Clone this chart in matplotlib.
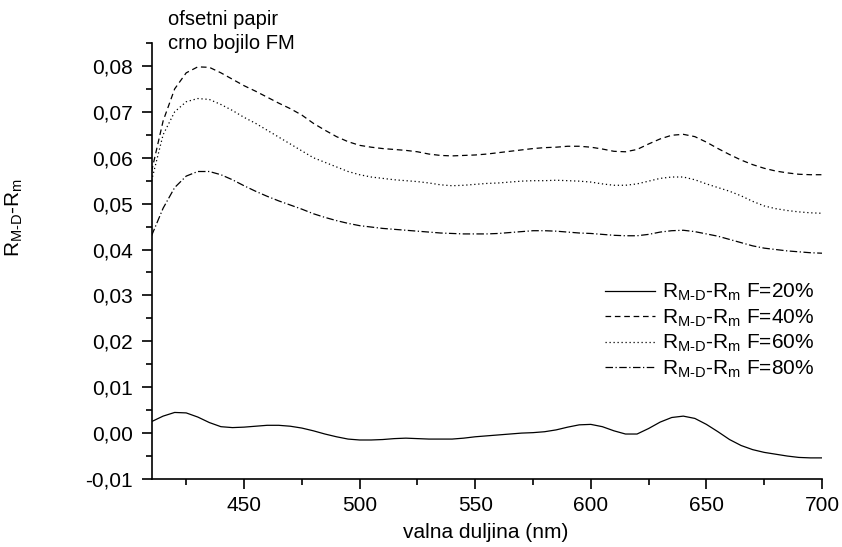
import numpy as np
import matplotlib
matplotlib.use("Agg")
import matplotlib.pyplot as plt
from matplotlib.ticker import MultipleLocator, FuncFormatter

plt.rcParams['font.family'] = ['Liberation Sans', 'DejaVu Sans']
plt.rcParams['mathtext.fontset'] = 'custom'
plt.rcParams['mathtext.rm'] = 'Liberation Sans'
plt.rcParams['mathtext.it'] = 'Liberation Sans'

# valna duljina (nm), svakih 5 nm
wl = np.arange(410, 701, 5)

f20 = [0.0025, 0.0037, 0.0045, 0.0044, 0.0035, 0.0023, 0.0014, 0.0012, 0.0013, 0.0015,
       0.0017, 0.0017, 0.0015, 0.0011, 0.0005, -0.0002, -0.0008, -0.0013, -0.0015, -0.0015,
       -0.0014, -0.0012, -0.0011, -0.0012, -0.0013, -0.0013, -0.0013, -0.0011, -0.0008, -0.0006,
       -0.0004, -0.0002, 0.0000, 0.0001, 0.0003, 0.0007, 0.0013, 0.0018, 0.0019, 0.0014,
       0.0005, -0.0002, -0.0002, 0.0010, 0.0024, 0.0034, 0.0037, 0.0032, 0.0019, 0.0003,
       -0.0014, -0.0027, -0.0036, -0.0042, -0.0046, -0.0050, -0.0053, -0.0054, -0.0054]

f40 = [0.0570, 0.0680, 0.0750, 0.0785, 0.0798, 0.0797, 0.0785, 0.0771, 0.0757, 0.0745,
       0.0732, 0.0719, 0.0707, 0.0693, 0.0675, 0.0660, 0.0646, 0.0635, 0.0627, 0.0623,
       0.0620, 0.0618, 0.0616, 0.0613, 0.0608, 0.0605, 0.0604, 0.0605, 0.0606, 0.0608,
       0.0611, 0.0614, 0.0617, 0.0620, 0.0622, 0.0623, 0.0625, 0.0625, 0.0623, 0.0619,
       0.0614, 0.0613, 0.0618, 0.0630, 0.0641, 0.0649, 0.0651, 0.0646, 0.0634, 0.0620,
       0.0607, 0.0595, 0.0585, 0.0577, 0.0571, 0.0567, 0.0564, 0.0563, 0.0563]

f60 = [0.0550, 0.0650, 0.0700, 0.0722, 0.0729, 0.0727, 0.0716, 0.0703, 0.0688, 0.0675,
       0.0660, 0.0645, 0.0630, 0.0615, 0.0600, 0.0590, 0.0580, 0.0570, 0.0563, 0.0558,
       0.0555, 0.0552, 0.0550, 0.0548, 0.0545, 0.0541, 0.0539, 0.0540, 0.0542, 0.0544,
       0.0545, 0.0547, 0.0549, 0.0550, 0.0550, 0.0551, 0.0550, 0.0549, 0.0547, 0.0543,
       0.0540, 0.0540, 0.0543, 0.0549, 0.0555, 0.0558, 0.0558, 0.0552, 0.0543, 0.0535,
       0.0527, 0.0517, 0.0505, 0.0495, 0.0489, 0.0485, 0.0482, 0.0480, 0.0479]

f80 = [0.0430, 0.0490, 0.0535, 0.0560, 0.0570, 0.0570, 0.0563, 0.0552, 0.0539, 0.0527,
       0.0516, 0.0506, 0.0497, 0.0488, 0.0478, 0.0470, 0.0463, 0.0457, 0.0452, 0.0449,
       0.0446, 0.0444, 0.0442, 0.0440, 0.0438, 0.0436, 0.0435, 0.0434, 0.0434, 0.0434,
       0.0435, 0.0437, 0.0439, 0.0441, 0.0441, 0.0440, 0.0438, 0.0436, 0.0435, 0.0433,
       0.0431, 0.0430, 0.0430, 0.0433, 0.0438, 0.0441, 0.0442, 0.0439, 0.0434, 0.0429,
       0.0422, 0.0415, 0.0408, 0.0403, 0.0400, 0.0397, 0.0395, 0.0393, 0.0392]

rlab = r'R$_{\mathrm{M\text{-}D}}$-R$_{\mathrm{m}}$'
labels = [rlab + ' F=20%', rlab + ' F=40%', rlab + ' F=60%', rlab + ' F=80%']

fig = plt.figure(figsize=(8.42, 5.47), dpi=100)
ax = fig.add_axes([152/842, 68/547, 670/842, 436/547])

lw = 0.9
ax.plot(wl, f20, color='black', lw=lw, ls='-', label=labels[0])
ax.plot(wl, f40, color='black', lw=lw, ls=(0, (4.5, 3)), label=labels[1])
ax.plot(wl, f60, color='black', lw=lw, ls=(0, (1, 2.2)), label=labels[2])
ax.plot(wl, f80, color='black', lw=lw, ls=(0, (6, 2, 1, 2)), label=labels[3])

ax.set_xlim(410.2, 700)
ax.set_ylim(-0.01, 0.085)

ax.spines['top'].set_visible(False)
ax.spines['right'].set_visible(False)
ax.spines['left'].set_linewidth(1.2)
ax.spines['bottom'].set_linewidth(1.2)

ax.xaxis.set_major_locator(MultipleLocator(50))
ax.xaxis.set_minor_locator(MultipleLocator(25))
ax.yaxis.set_major_locator(MultipleLocator(0.01))
ax.yaxis.set_minor_locator(MultipleLocator(0.005))

def comma(v, pos):
    s = '%.2f' % v
    if s == '-0.00':
        s = '0.00'
    return s.replace('.', ',')

ax.yaxis.set_major_formatter(FuncFormatter(comma))
ax.tick_params(which='major', direction='out', length=7.5, width=1.2, labelsize=15, pad=5)
ax.tick_params(which='minor', direction='out', length=4, width=1.2)
ax.tick_params(axis='y', which='major', pad=6.5)

ax.set_xlabel('valna duljina (nm)', fontsize=15)
ax.xaxis.set_label_coords(0.4985, -0.100)
ax.set_ylabel(rlab, fontsize=15)
ax.yaxis.set_label_coords(-0.19, 0.60)

fig.text(168/842, 1 - 25/547, 'ofsetni papir', fontsize=14.5, va='baseline')
fig.text(168/842, 1 - 49/547, 'crno bojilo FM', fontsize=14.5, va='baseline')

ax.legend(loc='upper left', bbox_to_anchor=(605/842, 1 - 282/547), bbox_transform=fig.transFigure,
          frameon=False, fontsize=15, handlelength=2.4, handletextpad=0.35,
          labelspacing=0.2, borderpad=0, borderaxespad=0)

fig.savefig('out.png', dpi=100)
